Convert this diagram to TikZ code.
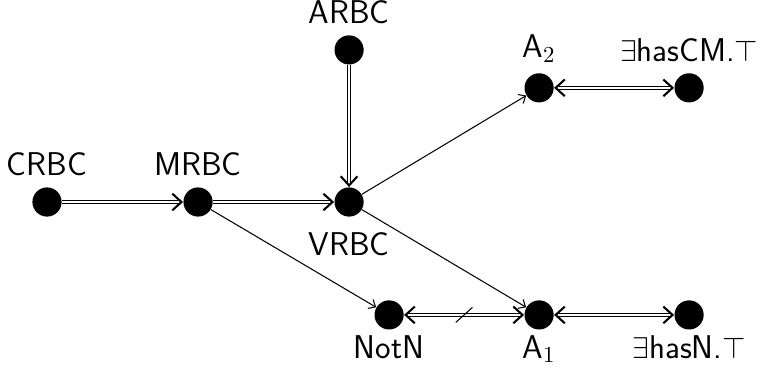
\documentclass[tikz,border=0pt]{standalone}
\usepackage{amsmath}
\usepackage{amssymb}
\usepackage{tikz}
\usetikzlibrary{positioning}
\usetikzlibrary{arrows.meta}
\tikzstyle{dot} = [circle, fill=black, inner sep=0pt, minimum size=14pt]
\tikzstyle{imp} = [draw, double, line width=0.45pt, double distance=1pt,
                -{Straight Barb[length=4.4pt,width=8pt,line width=1pt]}]
\tikzstyle{bimp} = [draw, double, line width=0.45pt, double distance=1pt,
                {Straight Barb[length=4.4pt,width=8pt,line width=1pt]}-{Straight Barb[length=4.4pt,width=8pt,line width=1pt]}]
\tikzstyle{line} = [draw, line width=0.5pt, -{Straight Barb[length=2.8pt,width=5pt]}]
\tikzset{every label/.style={inner sep=0pt, label distance=5pt,
                font=\fontsize{15.8}{19}\selectfont\sffamily}}

\begin{document}
\begin{tikzpicture}[on grid]
        \node[dot, label=above:CRBC](crbc){};
        \node[dot, right=72.5pt of crbc, label=above:MRBC](mrbc){};
        \node[dot, right=72.5pt of mrbc, label={[label distance=7.2pt]below:VRBC}](vrbc){};
        \node[dot, above=73pt of vrbc, label=above:ARBC](arbc){};
        \node[dot, below right=54.2pt and 19.2pt of vrbc, label={[label distance=2.4pt]below:NotN}](notn){};
        \node[dot, right=72pt of notn, label={[label distance=2.4pt]below:A$_1$}](aone){};
        \node[dot, right=72pt of aone, label={[label distance=2.4pt]below:$\exists$hasN.$\top$}](hasn){};
        \node[dot, above=109pt of aone, label=above:A$_2$](atwo){};
        \node[dot, right=72pt of atwo, label=above:$\exists$hasCM.$\top$](hascm){};
        \path[imp] (crbc) -- (mrbc);
        \path[imp] (mrbc) -- (vrbc);
        \path[imp] (arbc) -- (vrbc);
        \path[line] (vrbc) -- (atwo);
        \path[line] (vrbc) -- (aone);
        \path[line] (mrbc) -- (notn);
        \path[bimp] (notn) -- node[coordinate, midway](cut){} (aone);
        \path[draw, line width=0.5pt] ([shift={(-4pt,-3.6pt)}]cut) -- ([shift={(4pt,3.6pt)}]cut);
        \path[bimp] (aone) -- (hasn);
        \path[bimp] (atwo) -- (hascm);
        \useasboundingbox ([shift={(-22.56pt,-83.04pt)}]crbc) rectangle ([shift={(341.76pt,96.96pt)}]crbc);
\end{tikzpicture}
\end{document}
